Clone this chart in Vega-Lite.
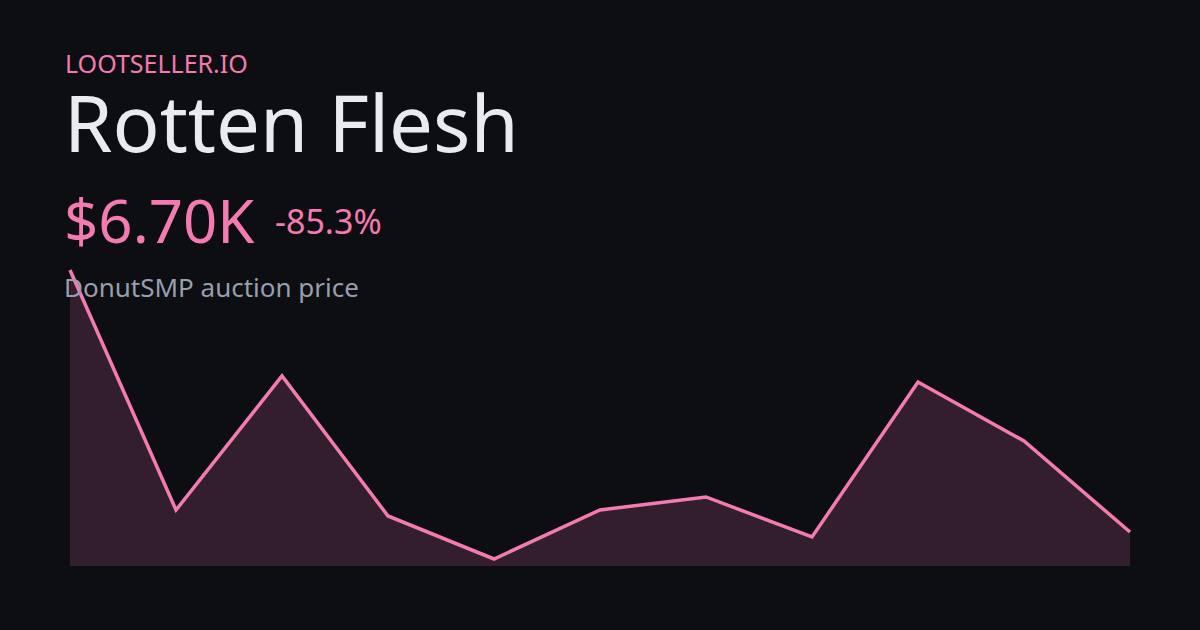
{
  "$schema": "https://vega.github.io/schema/vega-lite/v6.json",
  "width": 1200,
  "height": 630,
  "autosize": {"type": "fit", "contains": "padding"},
  "padding": 0,
  "background": "#0d0e11",
  "config": {"view": {"stroke": null}, "font": "Noto Sans"},
  "datasets": {
    "prices": [
      {"i": 0, "price": 45.58},
      {"i": 1, "price": 9.97},
      {"i": 2, "price": 29.86},
      {"i": 3, "price": 9.08},
      {"i": 4, "price": 2.7},
      {"i": 5, "price": 9.97},
      {"i": 6, "price": 11.9},
      {"i": 7, "price": 5.97},
      {"i": 8, "price": 28.97},
      {"i": 9, "price": 20.21},
      {"i": 10, "price": 6.7}
    ]
  },
  "layer": [
    {
      "data": {"name": "prices"},
      "mark": {"type": "area", "color": "#f472b6", "fillOpacity": 0.17},
      "encoding": {
        "x": {"field": "i", "type": "quantitative", "axis": null, "scale": {"domain": [0, 10], "range": [70, 1130], "nice": false}},
        "y": {"field": "price", "type": "quantitative", "axis": null, "scale": {"domain": [1.66, 45.58], "range": [566, 270], "zero": false, "nice": false}},
        "y2": {"datum": 1.66}
      }
    },
    {
      "data": {"name": "prices"},
      "mark": {"type": "line", "color": "#f47ab2", "strokeWidth": 3.5, "clip": false},
      "encoding": {
        "x": {"field": "i", "type": "quantitative"},
        "y": {"field": "price", "type": "quantitative"}
      }
    },
    {
      "data": {"values": [{"t": "LOOTSELLER.IO"}]},
      "mark": {"type": "text", "align": "left", "baseline": "alphabetic", "fontSize": 25, "color": "#f47ab2", "font": "Noto Sans"},
      "encoding": {"text": {"field": "t"}, "x": {"value": 65}, "y": {"value": 73}}
    },
    {
      "data": {"values": [{"t": "Rotten Flesh"}]},
      "mark": {"type": "text", "align": "left", "baseline": "alphabetic", "fontSize": 78, "color": "#e9ebf0", "font": "Noto Sans"},
      "encoding": {"text": {"field": "t"}, "x": {"value": 64}, "y": {"value": 152}}
    },
    {
      "data": {"values": [{"t": "$6.70K"}]},
      "mark": {"type": "text", "align": "left", "baseline": "alphabetic", "fontSize": 60, "color": "#f47ab2", "font": "Noto Sans"},
      "encoding": {"text": {"field": "t"}, "x": {"value": 64}, "y": {"value": 243}}
    },
    {
      "data": {"values": [{"t": "-85.3%"}]},
      "mark": {"type": "text", "align": "left", "baseline": "alphabetic", "fontSize": 34, "color": "#f47ab2", "font": "Noto Sans"},
      "encoding": {"text": {"field": "t"}, "x": {"value": 275}, "y": {"value": 234}}
    },
    {
      "data": {"values": [{"t": "DonutSMP auction price"}]},
      "mark": {"type": "text", "align": "left", "baseline": "alphabetic", "fontSize": 26, "color": "#979eae", "font": "Noto Sans"},
      "encoding": {"text": {"field": "t"}, "x": {"value": 64}, "y": {"value": 297}}
    }
  ]
}
